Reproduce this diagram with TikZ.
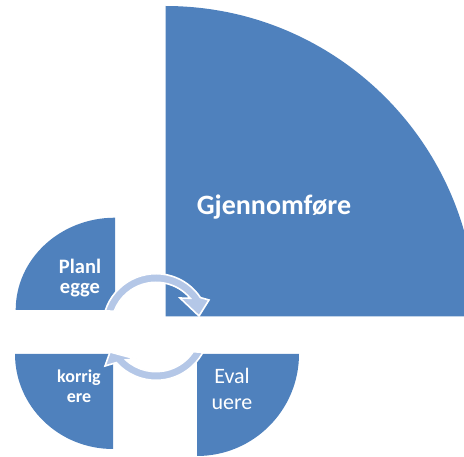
\documentclass[tikz,border=0pt]{standalone}
\usepackage{fontspec}
\setmainfont{Carlito}
\usetikzlibrary{calc}
\definecolor{qblue}{RGB}{79,129,189}
\definecolor{arrowblue}{RGB}{180,199,231}
\tikzset{
  quad/.style={fill=qblue, draw=none},
  cyclearrow/.style={fill=arrowblue, draw=white, line width=1.6pt, line join=miter},
  lbl/.style={text=white, align=center, inner sep=0pt},
}
\begin{document}
\begin{tikzpicture}[x=1pt,y=1pt]
\useasboundingbox (0,0) rectangle (464,-457);
\clip (0,0) rectangle (464,-457);
\coordinate (C) at (156,-327);
% quadrants
\fill[quad] (165.5,-316.5) -- ++(0,310.5) arc[start angle=90, end angle=0, radius=310.5] -- cycle;
\fill[quad] (115,-310) -- ++(0,92.3) arc[start angle=90, end angle=180, x radius=99.3, y radius=92.3] -- cycle;
\fill[quad] (113,-354) -- ++(-98,0) arc[start angle=180, end angle=270, x radius=98, y radius=95] -- cycle;
\fill[quad] (197,-354) -- ++(0,-102) arc[start angle=270, end angle=360, radius=102] -- cycle;
% cycle arrows
\filldraw[cyclearrow] ($(C)+(162.3:53.3)$) arc[start angle=162.3, end angle=33.5, radius=53.3]
  -- (209,-300) -- (199,-316) -- (180,-298) -- ($(C)+(40:44.7)$)
  arc[start angle=40, end angle=159.4, radius=44.7] -- cycle;
\filldraw[cyclearrow] ($(C)+(331.6:53.3)$) arc[start angle=331.6, end angle=221.9, radius=53.3]
  -- (105,-366) -- (110,-352) -- (136,-359) -- ($(C)+(227.5:44.7)$)
  arc[start angle=227.5, end angle=326.4, radius=44.7] -- cycle;
% labels
\node[lbl, font=\bfseries\fontsize{28}{34}\selectfont, anchor=base] (gjen) at (274,-215) {Gjennomføre};
\node[lbl, font=\bfseries\fontsize{20.5}{20}\selectfont] (plan) at (80,-278.5) {Planl\\egge};
\node[lbl, font=\bfseries\fontsize{18}{20}\selectfont] (korr) at (79,-386) {korrig\\ere};
\node[lbl, font=\fontsize{22}{26}\selectfont] (eval) at (232,-389) {Eval\\uere};
\end{tikzpicture}
\end{document}
